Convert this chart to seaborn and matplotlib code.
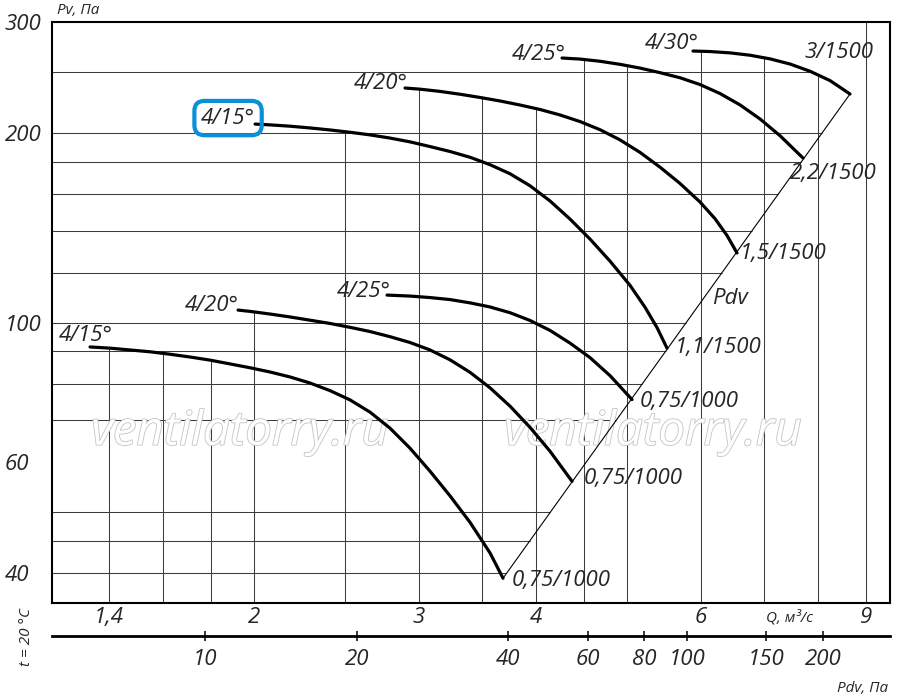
import numpy as np
import pandas as pd
import matplotlib
matplotlib.use('Agg')
import matplotlib.pyplot as plt
import matplotlib.patheffects as pe
from matplotlib.ticker import NullLocator
import seaborn as sns

# fan curves: Q in m3/s, Pv in Pa
q_15_1000 = [1.3363, 1.4037, 1.4742, 1.5487, 1.6267, 1.7087, 1.7947, 1.8852, 1.9801, 2.0799, 2.1846,
             2.2947, 2.4103, 2.5318, 2.6593, 2.7932, 2.9339, 3.0817, 3.2370, 3.4, 3.5713, 3.6872]
p_15_1000 = [91.5, 91.1, 90.5, 89.9, 89.1, 88.2, 87.2, 86.0, 84.8, 83.5, 82.0,
             80.2, 78.0, 75.4, 72.1, 68.0, 63.2, 58.1, 53.1, 48.2, 43.1, 39.3]

q_20_1000 = [1.9226, 1.9801, 2.0799, 2.1846, 2.2947, 2.4103, 2.5318, 2.6593, 2.7932, 2.9339,
             3.0817, 3.2370, 3.4, 3.5713, 3.7512, 3.9402, 4.1387, 4.3686]
p_20_1000 = [104.7, 104.2, 103.2, 102.1, 100.9, 99.7, 98.3, 96.8, 95.0, 93.0,
             90.5, 87.3, 83.4, 78.8, 73.7, 68.2, 62.5, 56.0]

q_25_1000 = [2.7727, 2.9339, 3.0817, 3.2370, 3.4, 3.5713, 3.7512, 3.9402, 4.1387, 4.3472,
             4.5662, 4.7962, 5.0627]
p_25_1000 = [110.6, 110.2, 109.6, 108.8, 107.5, 105.9, 103.7, 100.8, 97.2, 92.8,
             88.0, 82.4, 75.5]

q_15_1500 = [2.0046, 2.0799, 2.1846, 2.2947, 2.4103, 2.5318, 2.6593, 2.7932, 2.9339, 3.0817, 3.2370,
             3.4, 3.5713, 3.7512, 3.9402, 4.1387, 4.3472, 4.5662, 4.7962, 5.0378, 5.2270, 5.3835, 5.5173]
p_15_1500 = [206.6, 206.0, 205.0, 203.7, 202.2, 200.5, 198.6, 196.3, 193.6, 190.3, 186.9,
             183.0, 178.1, 172.3, 164.9, 156.0, 146.0, 135.7, 125.2, 114.6, 105.8, 98.2, 91.1]

q_20_1500 = [2.8981, 3.0069, 3.1584, 3.3175, 3.4846, 3.6602, 3.8446, 4.0382, 4.2417, 4.4554,
             4.6797, 4.9155, 5.1631, 5.4233, 5.6965, 5.9835, 6.2081, 6.3938, 6.5529]
p_20_1500 = [235.7, 234.7, 232.8, 230.4, 227.7, 224.8, 221.5, 217.9, 213.6, 208.5,
             202.4, 195.0, 186.3, 176.5, 166.3, 155.4, 146.2, 137.5, 129.0]

q_25_1500 = [4.2625, 4.4554, 4.6797, 4.9155, 5.1631, 5.4233, 5.6965, 5.9835, 6.2848, 6.6015,
             6.9338, 7.2834, 7.7067]
p_25_1500 = [263.0, 262.0, 259.9, 257.0, 253.5, 249.3, 244.7, 238.7, 231.0, 221.6,
             210.5, 198.0, 182.5]

q_30_1500 = [5.8814, 6.1323, 6.4410, 6.7657, 7.1064, 7.4645, 7.8405, 8.2356, 8.6502]
p_30_1500 = [269.8, 269.3, 268.0, 265.7, 262.2, 257.3, 250.6, 242.2, 230.6]

angle_labels = ['4/15°', '4/20°', '4/25°', '4/15°', '4/20°', '4/25°', '4/30°']
motor_labels = ['0,75/1000', '0,75/1000', '0,75/1000', '1,1/1500', '1,5/1500', '2,2/1500', '3/1500']

q_ticks = [1.4, 2, 3, 4, 6, 9]
q_tick_labels = ['1,4', '2', '3', '4', '6', '9']
pv_ticks = [40, 60, 100, 200, 300]
pv_tick_labels = ['40', '60', '100', '200', '300']

# dynamic pressure scale (Pa) and where its ticks sit on the Q axis
pdv_ticks = ['10', '20', '40', '60', '80', '100', '150', '200']
pdv_tick_q = [1.773, 2.576, 3.733, 4.544, 5.214, 5.795, 7.04, 8.095]

q_grid = [1.4, 1.6, 1.8, 2, 2.5, 3, 3.5, 4, 4.5, 5, 6, 7, 8, 9]
pv_grid = [40, 45, 50, 70, 80, 90, 100, 120, 140, 160, 180, 200, 250]

curves = [(q_15_1000, p_15_1000), (q_20_1000, p_20_1000), (q_25_1000, p_25_1000),
          (q_15_1500, p_15_1500), (q_20_1500, p_20_1500), (q_25_1500, p_25_1500),
          (q_30_1500, p_30_1500)]

frames = []
for i, (q, p) in enumerate(curves):
    frames.append(pd.DataFrame({'Q': q, 'P': p, 'curve': i}))
df = pd.concat(frames, ignore_index=True)

sns.set_theme(style='white')
plt.rcParams['font.family'] = ['Open Sans', 'DejaVu Sans']
plt.rcParams['font.style'] = 'italic'

XMIN, XMAX = 1.217, 9.544
YMIN, YMAX = 35.9, 300

fig = plt.figure(figsize=(9, 6.97), dpi=100)
ax = fig.add_axes([52 / 900, 1 - 603 / 697, 838 / 900, 581 / 697])
ax.set_xscale('log')
ax.set_yscale('log')


def loginterp(x, xs, ys):
    return 10 ** np.interp(np.log10(x), np.log10(xs), np.log10(ys))


# Pdv line joins the curve ends
pdv_q = [q_15_1000[-1], q_30_1500[-1]]
pdv_p = [p_15_1000[-1], p_30_1500[-1]]

# horizontal grid stops at the Pdv line (or the top curve above it)
for p in pv_grid:
    if p <= pdv_p[1]:
        x_end = loginterp(p, pdv_p, pdv_q)
    else:
        x_end = loginterp(p, p_30_1500[::-1], q_30_1500[::-1])
    ax.hlines(p, XMIN, x_end, color='#3c3c3c', lw=0.75, zorder=1)

# vertical grid stops at the highest curve
for q in q_grid:
    tops = [loginterp(q, cq, cp) for cq, cp in curves if cq[0] <= q <= cq[-1]]
    top = max(tops) if tops else YMAX
    ax.vlines(q, YMIN, top, color='#3c3c3c', lw=0.75, zorder=1)

for cx in [240, 653]:
    ax.text(cx / 900, 1 - 432 / 697, 'ventilatorry.ru', transform=fig.transFigure,
            ha='center', va='center', fontsize=34, color='white', zorder=2,
            path_effects=[pe.withStroke(linewidth=1.2, foreground='#c4c4c4')])

ax.plot(pdv_q, pdv_p, color='black', lw=0.8, zorder=3)
sns.lineplot(data=df, x='Q', y='P', units='curve', estimator=None, sort=False,
             color='black', linewidth=2.3, ax=ax, zorder=4, legend=False)

start_off = [(-4, 11), (-26, 5), (-23, 4), (-27, 6), (-24, 5), (-23, 4), (-21, 8)]
end_off = [(9, -2), (12, 3), (8, -2), (8, 1), (3, -1), (-13, -15), (-45, 42)]
for i, (q, p) in enumerate(curves):
    box = None
    if i == 3:
        box = dict(boxstyle='round,pad=0.3,rounding_size=0.45', fc='none', ec='#0a8fd8', lw=3)
    ax.annotate(angle_labels[i], (q[0], p[0]), xytext=start_off[i], textcoords='offset pixels',
                ha='center', va='center', fontsize=16, bbox=box, zorder=5)
    ax.annotate(motor_labels[i], (q[-1], p[-1]), xytext=end_off[i], textcoords='offset pixels',
                ha='left', va='center', fontsize=16, zorder=5)

ax.set_xlim(XMIN, XMAX)
ax.set_ylim(YMIN, YMAX)
ax.set_xlabel('')
ax.set_ylabel('')
ax.set_xticks(q_ticks, labels=q_tick_labels)
ax.set_yticks(pv_ticks, labels=pv_tick_labels)
ax.xaxis.set_minor_locator(NullLocator())
ax.yaxis.set_minor_locator(NullLocator())
ax.tick_params(axis='x', length=0, labelsize=16, pad=3)
ax.tick_params(axis='y', length=0, labelsize=16, pad=34)
for lab in ax.get_yticklabels():
    lab.set_ha('left')
for s in ax.spines.values():
    s.set_color('black')
    s.set_linewidth(1.5)

sec = ax.secondary_xaxis(-0.0568)
sec.set_xticks(pdv_tick_q, labels=pdv_ticks)
sec.xaxis.set_minor_locator(NullLocator())
sec.tick_params(direction='inout', length=7, width=1.1, labelsize=16, pad=6, color='black')
for s in sec.spines.values():
    s.set_linewidth(2)
    s.set_color('black')

fig.text(57 / 900, 1 - 10 / 697, 'Pv, Па', fontsize=11, ha='left', va='center')
fig.text(789 / 900, 1 - 618 / 697, 'Q, м³/с', fontsize=11, ha='center', va='center')
fig.text(888 / 900, 1 - 688 / 697, 'Pdv, Па', fontsize=11, ha='right', va='center')
fig.text(27 / 900, 1 - 637 / 697, 't = 20 °C', fontsize=11, rotation=90, ha='center', va='center')
fig.text(730 / 900, 1 - 299 / 697, 'Pdv', fontsize=16, ha='center', va='center')

fig.savefig('out.png', dpi=100)
